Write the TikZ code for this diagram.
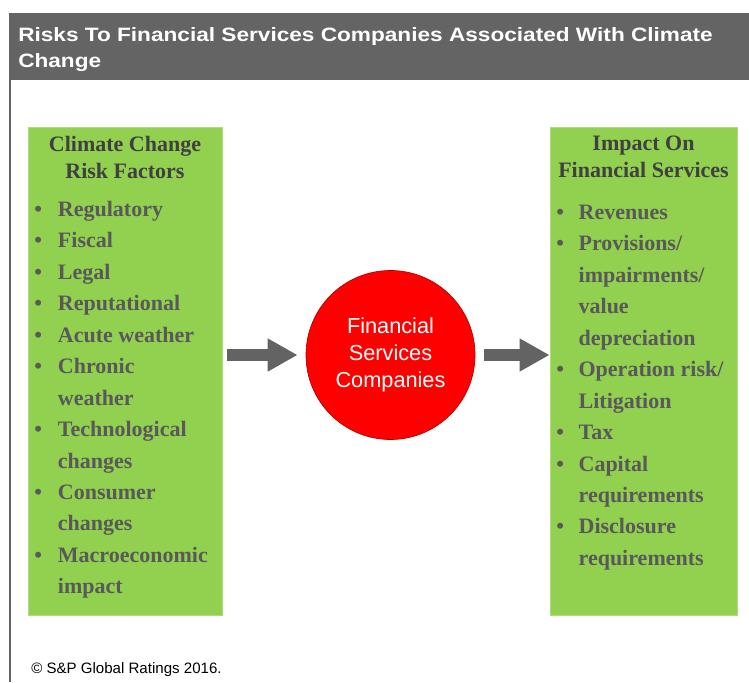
\documentclass[tikz,border=0pt]{standalone}
\usepackage{fontspec}
\setmainfont{Liberation Sans}
\newfontfamily\listfont{Liberation Serif}
\newfontfamily\titlefont{Liberation Sans}[FakeStretch=1.17]
\usetikzlibrary{positioning,arrows.meta}

\definecolor{riskgreen}{HTML}{92D050}
\definecolor{bargray}{HTML}{646464}
\definecolor{textgray}{HTML}{595959}
\definecolor{headgray}{HTML}{404040}
\definecolor{arrowgray}{HTML}{636363}
\definecolor{firmred}{HTML}{FF0000}

\tikzset{
  factorbox/.style={draw=riskgreen!75!white, line width=0.6pt, fill=riskgreen, rectangle, inner sep=0pt},
  headtext/.style={text=headgray, align=center, inner sep=0pt, font=\listfont\bfseries\fontsize{16.5pt}{20.25pt}\selectfont},
  listtext/.style={text=textgray, inner sep=0pt, anchor=north west, font=\listfont\bfseries\fontsize{16.5pt}{23.6pt}\selectfont},
  firm/.style={circle, draw=firmred!70!black, line width=0.5pt, fill=firmred, text=white, align=center, inner sep=0pt, minimum size=126.75pt, font=\fontsize{16.3pt}{20pt}\selectfont},
  flowarrow/.style={draw=arrowgray, line width=9pt, -{Triangle[length=22.5pt, width=23.25pt]}}
}

\begin{document}
\begin{tikzpicture}[x=0.75pt, y=-0.75pt]
  \useasboundingbox (0,0) rectangle (749,682);
  % header bar and frame line
  \fill[bargray] (9,13) rectangle (749,80);
  \draw[bargray, line width=1.1pt] (10,80) -- (10,682);
  \node[anchor=north west, inner sep=0pt, text=white, align=left, font=\titlefont\bfseries\fontsize{14.5pt}{19.5pt}\selectfont] (title) at (18,27) {Risks To Financial Services Companies Associated With Climate\\Change};

  % the two green boxes
  \node[factorbox, minimum width=145.5pt, minimum height=366pt] (risks) at (125,371) {};
  \node[factorbox, minimum width=140.25pt, minimum height=366pt] (impact) at (643.5,371) {};

  \node[headtext, below=6.75pt of risks.north] (riskhead) {Climate Change\\Risk Factors};
  \node[headtext, below=6.75pt of impact.north] (impacthead) {Impact On\\Financial Services};

  \node[listtext] (risklist) at (34,194) {%
    \begin{tabular}{@{}l@{\hspace{12pt}}l@{}}
      \textbullet & Regulatory\\
      \textbullet & Fiscal\\
      \textbullet & Legal\\
      \textbullet & Reputational\\
      \textbullet & Acute weather\\
      \textbullet & Chronic\\
                  & weather\\
      \textbullet & Technological\\
                  & changes\\
      \textbullet & Consumer\\
                  & changes\\
      \textbullet & Macroeconomic\\
                  & impact
    \end{tabular}};
  \node[listtext] (impactlist) at (556,197) {%
    \begin{tabular}{@{}l@{\hspace{11pt}}l@{}}
      \textbullet & Revenues\\
      \textbullet & Provisions/\\
                  & impairments/\\
                  & value\\
                  & depreciation\\
      \textbullet & Operation risk/\\
                  & Litigation\\
      \textbullet & Tax\\
      \textbullet & Capital\\
                  & requirements\\
      \textbullet & Disclosure\\
                  & requirements
    \end{tabular}};

  % centre circle and arrows
  \node[firm] (firm) at (390.5,355) {Financial\\Services\\Companies};
  \draw[flowarrow, shorten <=3.75pt, shorten >=6pt] (risks.east |- firm.west) -- (firm.west);
  \draw[flowarrow, shorten <=6.75pt] (firm.east) -- (impact.west |- firm.east);

  \node[anchor=base west, inner sep=0pt, font=\fontsize{11.3pt}{13pt}\selectfont] (credit) at (31,673) {\copyright\ S\&P Global Ratings 2016.};
\end{tikzpicture}
\end{document}
